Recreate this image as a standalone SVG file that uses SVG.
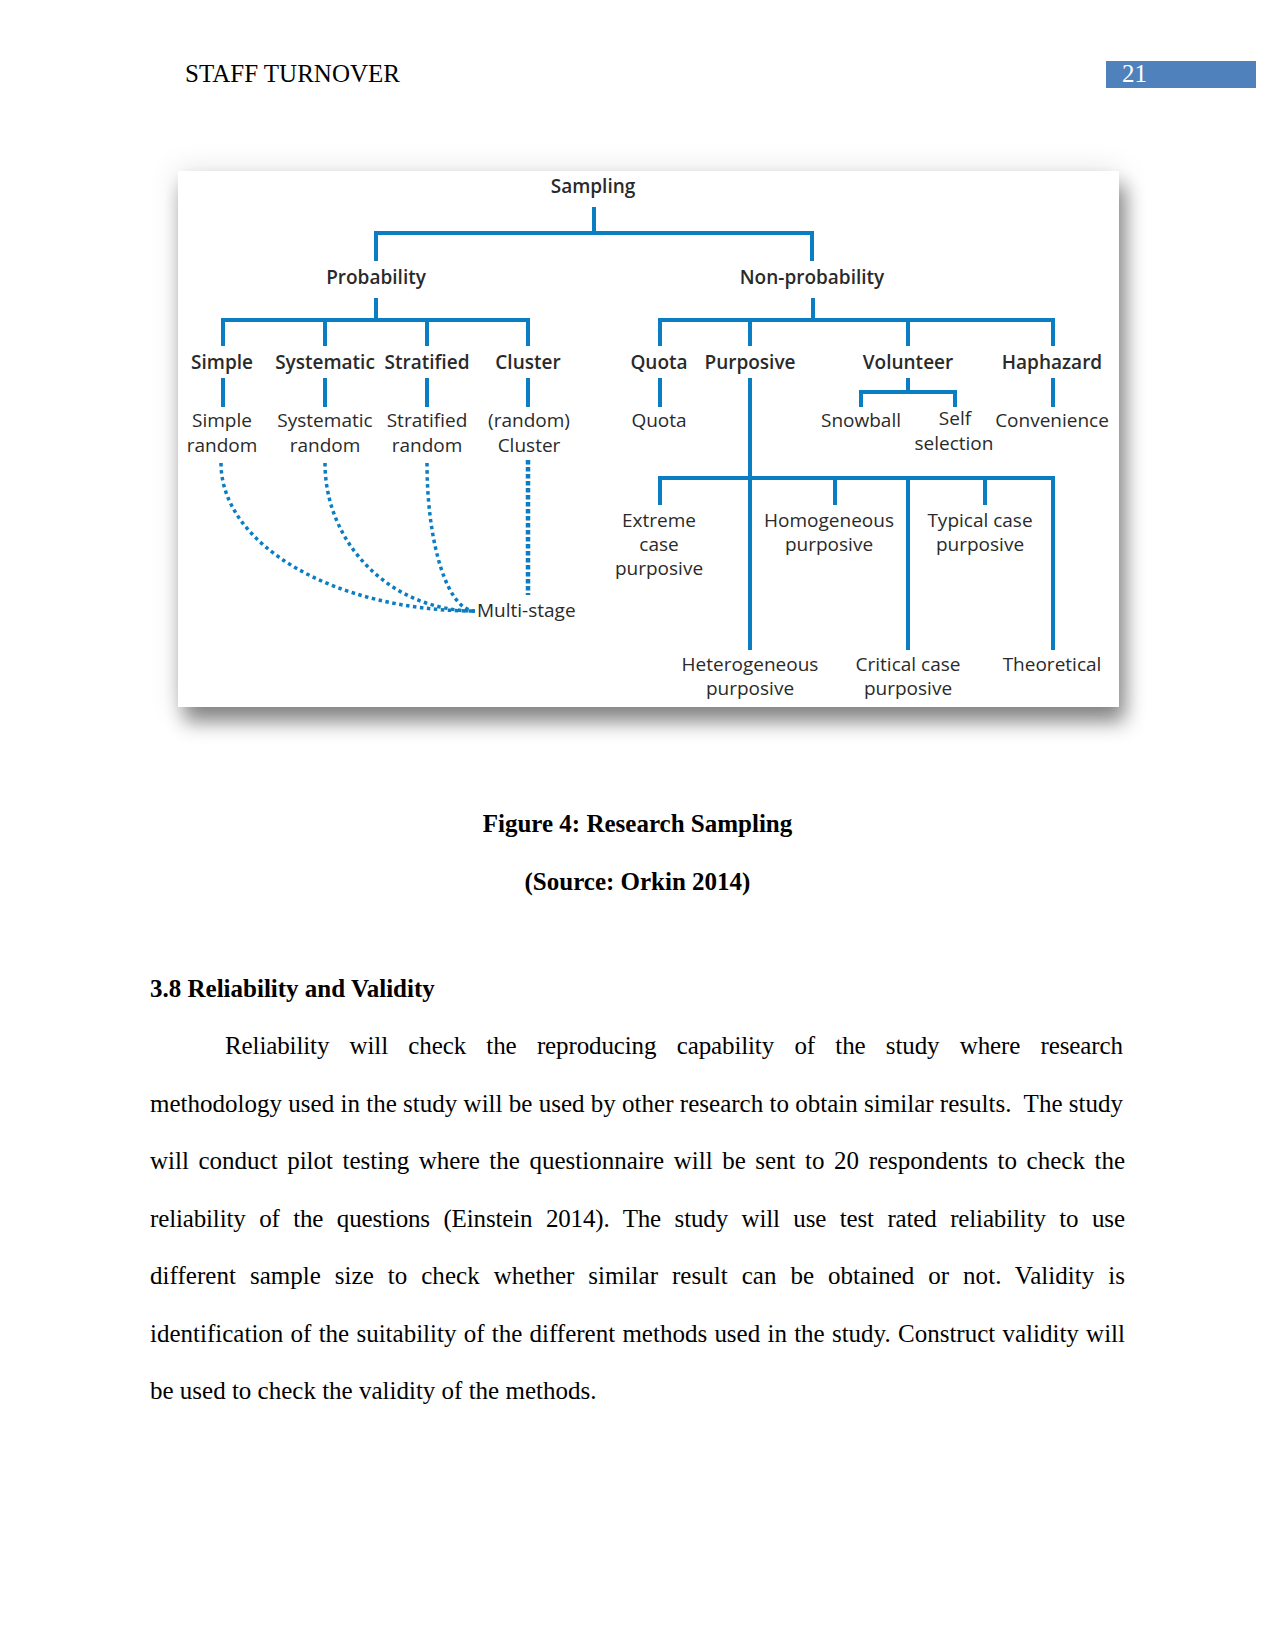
<svg xmlns="http://www.w3.org/2000/svg" width="1275" height="1650" viewBox="0 0 1275 1650">
<defs>
<style>
.page{font-family:"Liberation Serif","Times New Roman",serif;font-size:25px;fill:#000}
.b{font-weight:bold}
.n{font-family:"Open Sans","Noto Sans","Liberation Sans",sans-serif;font-size:19px;fill:#2a2a2a;text-anchor:middle}
.h{font-weight:600}
.ln{fill:none;stroke:#0b7dc3;stroke-width:4;stroke-linejoin:miter;stroke-linecap:butt}
.dot{fill:none;stroke:#0b7dc3;stroke-width:3.5;stroke-dasharray:3.5 3.5}
.dot2{fill:none;stroke:#0b7dc3;stroke-width:4.5;stroke-dasharray:4.5 2.5}
</style>
<filter id="sh" x="-10%" y="-10%" width="125%" height="130%">
<feGaussianBlur in="SourceAlpha" stdDeviation="10"/>
<feOffset dx="6" dy="15" result="b"/>
<feFlood flood-color="#000" flood-opacity="0.45"/>
<feComposite in2="b" operator="in" result="s"/>
<feGaussianBlur in="SourceAlpha" stdDeviation="14" result="b2"/>
<feFlood flood-color="#000" flood-opacity="0.12"/>
<feComposite in2="b2" operator="in" result="s2"/>
<feMerge><feMergeNode in="s2"/><feMergeNode in="s"/><feMergeNode in="SourceGraphic"/></feMerge>
</filter>
</defs>
<rect width="1275" height="1650" fill="#fff"/>

<g id="header">
<text class="page" x="185" y="82">STAFF TURNOVER</text>
<rect x="1106" y="61" width="150" height="27" fill="#4f81bd"/>
<text class="page" x="1122" y="82" style="fill:#fff">21</text>
</g>

<rect id="figure-frame" x="178" y="171" width="941" height="536" fill="#fff" filter="url(#sh)"/>

<g id="connectors">
<path class="ln" d="M594,207 V233 M376,261 V233 H812 V261"/>
<path class="ln" d="M376,298 V320 M223,346 V320 H528 V346 M325,320 V346 M427,320 V346"/>
<path class="ln" d="M813,298 V320 M660,346 V320 H1053 V346 M750,320 V346 M908,320 V346"/>
<path class="ln" d="M223,378 V407 M325,378 V407 M427,378 V407 M528,378 V407 M660,378 V407 M1053,378 V407"/>
<path class="ln" d="M908,378 V392 M861,407 V392 H955 V407"/>
<path class="ln" d="M750,378 V650 M660,505 V478 H1053 V650 M835,478 V505 M908,478 V650 M985,478 V505"/>
<path class="dot" d="M221,463 C221,545 335,611 475,611"/>
<path class="dot" d="M325,463 C325,545 392,611 475,611"/>
<path class="dot" d="M427,463 C427,545 448,611 475,611"/>
<path class="dot2" d="M528,460 V595"/>
</g>

<g id="n-sampling"><text class="n h" x="593" y="193">Sampling</text></g>
<g id="n-probability"><text class="n h" x="376" y="284">Probability</text></g>
<g id="n-nonprobability"><text class="n h" x="812" y="284">Non-probability</text></g>
<g id="n-simple"><text class="n h" x="222" y="369">Simple</text></g>
<g id="n-systematic"><text class="n h" x="325" y="369">Systematic</text></g>
<g id="n-stratified"><text class="n h" x="427" y="369">Stratified</text></g>
<g id="n-cluster"><text class="n h" x="528" y="369">Cluster</text></g>
<g id="n-quota"><text class="n h" x="659" y="369">Quota</text></g>
<g id="n-purposive"><text class="n h" x="750" y="369">Purposive</text></g>
<g id="n-volunteer"><text class="n h" x="908" y="369">Volunteer</text></g>
<g id="n-haphazard"><text class="n h" x="1052" y="369">Haphazard</text></g>

<g id="n-simple-random"><text class="n" x="222" y="427">Simple</text><text class="n" x="222" y="452">random</text></g>
<g id="n-systematic-random"><text class="n" x="325" y="427">Systematic</text><text class="n" x="325" y="452">random</text></g>
<g id="n-stratified-random"><text class="n" x="427" y="427">Stratified</text><text class="n" x="427" y="452">random</text></g>
<g id="n-random-cluster"><text class="n" x="529" y="427">(random)</text><text class="n" x="529" y="452">Cluster</text></g>
<g id="n-quota-leaf"><text class="n" x="659" y="427">Quota</text></g>
<g id="n-snowball"><text class="n" x="861" y="427">Snowball</text></g>
<g id="n-self-selection"><text class="n" x="955" y="425">Self</text><text class="n" x="954" y="450">selection</text></g>
<g id="n-convenience"><text class="n" x="1052" y="427">Convenience</text></g>
<g id="n-multistage"><text class="n" x="477" y="617" style="text-anchor:start">Multi-stage</text></g>
<g id="n-extreme"><text class="n" x="659" y="527">Extreme</text><text class="n" x="659" y="551">case</text><text class="n" x="659" y="575">purposive</text></g>
<g id="n-homogeneous"><text class="n" x="829" y="527">Homogeneous</text><text class="n" x="829" y="551">purposive</text></g>
<g id="n-typical"><text class="n" x="980" y="527">Typical case</text><text class="n" x="980" y="551">purposive</text></g>
<g id="n-heterogeneous"><text class="n" x="750" y="671">Heterogeneous</text><text class="n" x="750" y="695">purposive</text></g>
<g id="n-critical"><text class="n" x="908" y="671">Critical case</text><text class="n" x="908" y="695">purposive</text></g>
<g id="n-theoretical"><text class="n" x="1052" y="671">Theoretical</text></g>

<g id="caption">
<text class="page b" x="637.5" y="832" text-anchor="middle">Figure 4: Research Sampling</text>
<text class="page b" x="637.5" y="890" text-anchor="middle">(Source: Orkin 2014)</text>
</g>

<g id="body">
<text class="page b" x="150" y="997">3.8 Reliability and Validity</text>
<text class="page" x="225" y="1054" word-spacing="14.2" textLength="898" lengthAdjust="spacing">Reliability will check the reproducing capability of the study where research</text>
<text class="page" x="150" y="1111.5" style="white-space:pre" textLength="973" lengthAdjust="spacing">methodology used in the study will be used by other research to obtain similar results.  The study</text>
<text class="page" x="150" y="1169" word-spacing="3.3" textLength="975" lengthAdjust="spacing">will conduct pilot testing where the questionnaire will be sent to 20 respondents to check the</text>
<text class="page" x="150" y="1226.5" word-spacing="7.4" textLength="975" lengthAdjust="spacing">reliability of the questions (Einstein 2014). The study will use test rated reliability to use</text>
<text class="page" x="150" y="1284" word-spacing="7.6" textLength="975" lengthAdjust="spacing">different sample size to check whether similar result can be obtained or not. Validity is</text>
<text class="page" x="150" y="1341.5" word-spacing="1" textLength="975" lengthAdjust="spacing">identification of the suitability of the different methods used in the study. Construct validity will</text>
<text class="page" x="150" y="1399">be used to check the validity of the methods.</text>
</g>
</svg>
